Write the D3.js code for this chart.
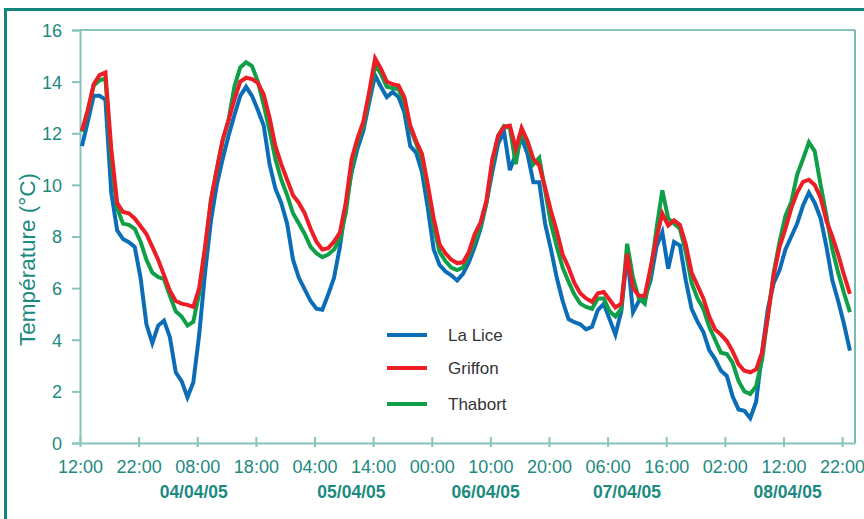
<!DOCTYPE html>
<html>
<head>
<meta charset="utf-8">
<script src="https://cdn.jsdelivr.net/npm/d3@7"></script>
<style>
  html, body { margin: 0; padding: 0; background: #ffffff; }
  svg { display: block; }
</style>
</head>
<body>
<svg id="chart" width="864" height="519"></svg>
<script>
// Hourly air temperature at three Rennes stations, 3–8 April 2005
const seriesNames = ["La Lice", "Griffon", "Thabort"];
const seriesColors = ["#0b6db8", "#ec1d25", "#0f9f47"];

// first reading 03/04/05 12:20, then one reading per hour
const firstReading = new Date(2005, 3, 3, 12, 20);

const laLice = [
  11.5, 12.45, 13.45, 13.45, 13.3, 9.7, 8.24, 7.9, 7.78, 7.6,
  6.4, 4.6, 3.87, 4.55, 4.74, 4.1, 2.74, 2.4, 1.77, 2.35,
  4.2, 6.6, 8.6, 10.0, 11.0, 11.9, 12.7, 13.45, 13.8, 13.45,
  12.9, 12.3, 10.8, 9.85, 9.3, 8.5, 7.1, 6.4, 5.95, 5.5,
  5.2, 5.16, 5.75, 6.4, 7.6, 9.2, 10.5, 11.4, 12.1, 13.2,
  14.25, 13.8, 13.4, 13.6, 13.4, 12.8, 11.5, 11.25, 10.5, 9.1,
  7.5, 6.9, 6.65, 6.5, 6.3, 6.55, 7.0, 7.6, 8.3, 9.3,
  10.5, 11.6, 12.06, 10.57, 11.2, 11.8, 11.2, 10.1, 10.1, 8.5,
  7.5, 6.4, 5.5, 4.8, 4.68, 4.6, 4.4, 4.5, 5.15, 5.39,
  4.8, 4.2, 5.1, 7.33, 5.07, 5.5, 5.6, 6.3, 7.6, 8.17,
  6.75, 7.79, 7.65, 6.3, 5.2, 4.7, 4.3, 3.6, 3.25, 2.8,
  2.6, 1.8, 1.3, 1.25, 0.96, 1.6, 3.5, 5.2, 6.2, 6.7,
  7.5, 8.0, 8.5, 9.2, 9.7, 9.3, 8.7, 7.6, 6.3, 5.5,
  4.6, 3.58
];

const griffon = [
  12.1, 12.9, 13.9, 14.25, 14.35, 11.4, 9.3, 8.95, 8.9, 8.7,
  8.4, 8.1, 7.6, 7.1, 6.5, 5.9, 5.5, 5.4, 5.35, 5.27,
  6.0, 7.6, 9.4, 10.6, 11.75, 12.5, 13.3, 14.0, 14.15, 14.1,
  13.95, 13.5, 12.6, 11.5, 10.8, 10.2, 9.6, 9.3, 8.9, 8.3,
  7.8, 7.5, 7.55, 7.8, 8.15, 9.3, 11.0, 11.8, 12.45, 13.6,
  14.9, 14.5, 14.0, 13.9, 13.85, 13.4, 12.3, 11.7, 11.2, 10.0,
  8.7, 7.7, 7.35, 7.1, 6.97, 7.0, 7.4, 8.1, 8.55, 9.4,
  11.0, 11.9, 12.25, 12.3, 11.4, 12.2, 11.7, 11.0, 10.76, 9.9,
  9.0, 8.2, 7.3, 6.8, 6.2, 5.8, 5.6, 5.47, 5.8, 5.85,
  5.55, 5.25, 5.4, 7.33, 6.0, 5.7, 5.7, 6.8, 7.95, 8.89,
  8.43, 8.63, 8.45, 7.7, 6.6, 6.1, 5.6, 4.9, 4.4, 4.2,
  3.95, 3.55, 3.05, 2.8, 2.74, 2.85, 3.5, 4.9, 6.5, 7.6,
  8.3, 9.1, 9.7, 10.12, 10.2, 10.0, 9.5, 8.6, 8.0, 7.3,
  6.5, 5.78
];

const thabort = [
  12.06, 12.84, 13.85, 14.05, 14.12, 11.0, 9.1, 8.5, 8.45, 8.3,
  7.8, 7.1, 6.6, 6.43, 6.35, 5.7, 5.1, 4.9, 4.55, 4.7,
  5.8, 7.5, 9.4, 10.6, 11.7, 12.5, 13.8, 14.55, 14.75, 14.6,
  14.0, 13.1, 12.1, 11.0, 10.2, 9.6, 8.9, 8.5, 8.1, 7.6,
  7.35, 7.2, 7.3, 7.5, 7.9, 8.9, 10.6, 11.7, 12.3, 13.4,
  14.65, 14.3, 13.8, 13.75, 13.7, 13.2, 12.2, 11.6, 11.0, 9.8,
  8.4, 7.4, 7.05, 6.8, 6.7, 6.8, 7.3, 7.8, 8.4, 9.3,
  10.8, 11.9, 12.28, 12.2, 10.8, 12.1, 11.6, 10.8, 11.05, 9.8,
  8.5, 7.6, 6.8, 6.25, 5.75, 5.4, 5.27, 5.2, 5.6, 5.6,
  5.1, 4.9, 5.2, 7.72, 6.4, 5.6, 5.4, 6.6, 8.3, 9.79,
  8.7, 8.5, 8.3, 7.4, 6.2, 5.6, 5.2, 4.5, 4.0, 3.5,
  3.45, 3.1, 2.4, 2.0, 1.9, 2.2, 3.2, 4.9, 6.6, 7.8,
  8.8, 9.34, 10.4, 11.0, 11.65, 11.3, 10.0, 8.8, 7.5, 6.6,
  5.8, 5.07
];

const xTickLabels = ["12:00", "22:00", "08:00", "18:00", "04:00", "14:00", "00:00",
                     "10:00", "20:00", "06:00", "16:00", "02:00", "12:00", "22:00"];
const yTicks = [0, 2, 4, 6, 8, 10, 12, 14, 16];
const dateLabels = ["04/04/05", "05/04/05", "06/04/05", "07/04/05", "08/04/05"];
// hours after 03/04/05 12:00 where each date caption is centred
const dateLabelHours = [19.4, 46.3, 69.2, 93.3, 120.7];

const teal = "#1b8a80";
const axisTeal = "#86c4bd";
const narrow = "'Liberation Sans Narrow', 'Arial Narrow', sans-serif";

const svg = d3.select("#chart");
const start = new Date(2005, 3, 3, 12, 0);
const hoursFromStart = h => new Date(start.getTime() + h * 3600e3);

const x = d3.scaleTime()
  .domain([start, hoursFromStart(132.2)])
  .range([80, 855]);
const y = d3.scaleLinear().domain([0, 16]).range([443, 30]);

// outer frame
svg.append("rect")
  .attr("x", 5.5).attr("y", 9.5)
  .attr("width", 900).attr("height", 600)
  .attr("fill", "none")
  .attr("stroke", "#14857b")
  .attr("stroke-width", 3);

// plot frame (top and right)
svg.append("line")
  .attr("x1", 80).attr("x2", 855).attr("y1", 30).attr("y2", 30)
  .attr("stroke", axisTeal).attr("stroke-width", 2);
svg.append("line")
  .attr("x1", 855).attr("x2", 855).attr("y1", 30).attr("y2", 443)
  .attr("stroke", "#4da59d").attr("stroke-width", 1.5);

// y axis
const yAxis = svg.append("g")
  .attr("transform", "translate(80,0)")
  .call(d3.axisLeft(y).tickValues(yTicks).tickSize(8).tickPadding(10).tickFormat(d3.format("d")));
yAxis.select(".domain").attr("stroke", axisTeal).attr("stroke-width", 2);
yAxis.selectAll(".tick line").attr("stroke", axisTeal).attr("stroke-width", 2);
yAxis.selectAll(".tick text")
  .attr("fill", teal)
  .attr("font-family", narrow)
  .attr("font-size", 18)
  .attr("dy", "0.36em");

// x axis
const xTickValues = xTickLabels.map((_, i) => hoursFromStart(i * 10));
const xAxis = svg.append("g")
  .attr("transform", "translate(0,443)")
  .call(d3.axisBottom(x).tickValues(xTickValues).tickSizeOuter(0).tickFormat((d, i) => xTickLabels[i]));
xAxis.select(".domain").attr("stroke", axisTeal).attr("stroke-width", 2);
xAxis.selectAll(".tick line")
  .attr("y1", -6).attr("y2", 4)
  .attr("stroke", axisTeal).attr("stroke-width", 2);
xAxis.selectAll(".tick text")
  .attr("y", 29.5).attr("dy", null)
  .attr("fill", teal)
  .attr("font-family", narrow)
  .attr("font-size", 18);

// date captions
svg.append("g").selectAll("text")
  .data(dateLabels)
  .join("text")
  .attr("x", (d, i) => x(hoursFromStart(dateLabelHours[i])))
  .attr("y", 497.5)
  .attr("text-anchor", "middle")
  .attr("fill", teal)
  .attr("font-family", "'Liberation Sans', Arial, sans-serif")
  .attr("font-weight", "bold")
  .attr("font-size", 17.5)
  .text(d => d);

// y axis title
svg.append("text")
  .attr("transform", "translate(35,259.5) rotate(-90)")
  .attr("text-anchor", "middle")
  .attr("fill", teal)
  .attr("font-family", narrow)
  .attr("font-size", 22.5)
  .text("Température (°C)");

// temperature lines
const readingTime = i => new Date(firstReading.getTime() + i * 3600e3);
const line = d3.line()
  .x((d, i) => x(readingTime(i)))
  .y(d => y(d));

const series = [laLice, griffon, thabort];
const drawOrder = [0, 2, 1];
svg.append("g").selectAll("path")
  .data(drawOrder)
  .join("path")
  .attr("d", k => line(series[k]))
  .attr("fill", "none")
  .attr("stroke", k => seriesColors[k])
  .attr("stroke-width", 4)
  .attr("stroke-linejoin", "miter");

// legend
const legendY = [335, 368, 404];
const legend = svg.append("g").selectAll("g")
  .data(seriesNames)
  .join("g")
  .attr("transform", (d, i) => `translate(0,${legendY[i]})`);
legend.append("line")
  .attr("x1", 387).attr("x2", 427)
  .attr("stroke", (d, i) => seriesColors[i])
  .attr("stroke-width", 4);
legend.append("text")
  .attr("x", 448)
  .attr("dy", "0.36em")
  .attr("fill", "#333333")
  .attr("font-family", narrow)
  .attr("font-size", 17)
  .text(d => d);
</script>
</body>
</html>
